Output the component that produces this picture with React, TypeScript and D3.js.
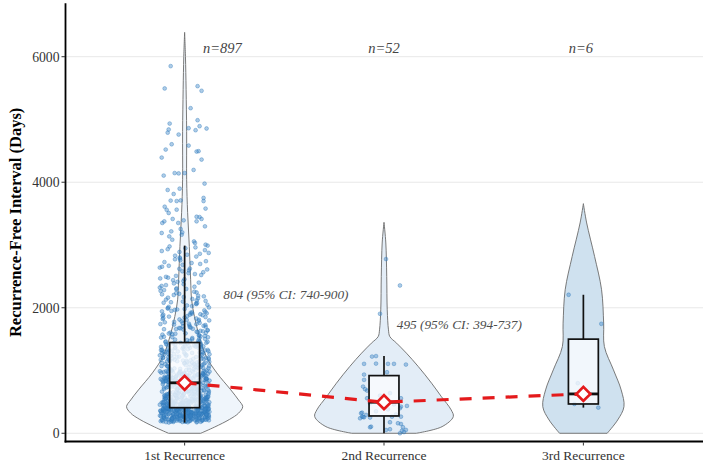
import * as d3 from 'd3';

const groups = ['1st Recurrence', '2nd Recurrence', '3rd Recurrence'];
const nLabels = ['n=897', 'n=52', 'n=6'];
const ciLabels = ['804 (95% CI: 740-900)', '495 (95% CI: 394-737)'];
const yTicks = [0, 2000, 4000, 6000];

// box summaries per group
const whiskerLow = [170, 0, 409];
const q1 = [408, 276, 467];
const medians = [804, 495, 627];
const q3 = [1446, 919, 1500];
const whiskerHigh = [2990, 1230, 2207];

// violin outlines: [days, relative density]
const violin1: [number, number][] = [
  [0, 0.23], [100, 0.43], [220, 0.64], [320, 0.77], [424, 0.83], [531, 0.77], [691, 0.66],
  [962, 0.46], [1222, 0.31], [1541, 0.21], [1860, 0.14], [2127, 0.1], [2446, 0.086],
  [2977, 0.067], [3515, 0.043], [4041, 0.029], [4810, 0.029], [5480, 0.021], [6000, 0.012], [6388, 0],
];
const violin2: [number, number][] = [
  [0, 0.46], [106, 0.83], [265, 0.99], [372, 0.96], [584, 0.82], [798, 0.68], [1063, 0.49],
  [1277, 0.32], [1436, 0.18], [1541, 0.083], [1648, 0.064], [1968, 0.046], [2499, 0.039],
  [3032, 0.026], [3361, 0],
];
const violin3: [number, number][] = [
  [0, 0.34], [212, 0.49], [424, 0.58], [691, 0.54], [1010, 0.43], [1382, 0.3], [1755, 0.29],
  [2287, 0.26], [2818, 0.16], [3351, 0.047], [3659, 0],
];

// 1st recurrence, bulk of the observations (days)
const firstDays = [
  172, 175, 176, 180, 181, 183, 186, 188, 190, 191, 193, 195, 198, 199, 200, 202, 204, 205, 207, 208,
  210, 210, 212, 214, 215, 217, 218, 220, 221, 223, 225, 226, 227, 229, 230, 231, 233, 235, 236, 238,
  239, 240, 242, 243, 245, 246, 247, 249, 250, 251, 252, 254, 255, 257, 258, 259, 260, 262, 263, 264,
  266, 267, 268, 270, 271, 272, 273, 275, 276, 277, 279, 280, 281, 282, 284, 285, 286, 288, 289, 290,
  291, 292, 294, 295, 296, 298, 299, 300, 300, 302, 303, 304, 305, 307, 308, 309, 310, 312, 313, 314,
  315, 317, 318, 319, 320, 321, 323, 324, 325, 326, 328, 329, 330, 331, 332, 334, 335, 336, 337, 339,
  340, 341, 342, 343, 345, 346, 347, 348, 350, 351, 352, 353, 354, 356, 357, 358, 359, 360, 362, 363,
  364, 365, 366, 368, 369, 370, 371, 372, 373, 375, 376, 377, 378, 379, 380, 382, 383, 384, 385, 386,
  387, 388, 390, 391, 392, 393, 394, 395, 396, 398, 399, 400, 401, 402, 403, 404, 405, 406, 407, 408,
  185, 196, 203, 219, 228, 237, 244, 253, 261, 269, 274, 283, 287, 297, 306, 311, 316, 322, 327, 333,
  338, 344, 349, 355, 361, 367, 374, 381, 389, 397, 178, 189, 209, 232, 248, 265, 278, 293, 301, 342,
  358, 371, 394, 402,
  410, 411, 413, 414, 415, 417, 418, 419, 421, 422, 423, 425, 426, 428, 429, 430, 432, 433, 434, 436,
  437, 439, 440, 441, 443, 444, 446, 447, 449, 450, 451, 453, 455, 456, 458, 459, 461, 462, 464, 465,
  467, 468, 470, 472, 473, 475, 476, 478, 479, 481, 483, 484, 486, 488, 489, 491, 492, 494, 496, 497,
  499, 501, 502, 504, 506, 508, 509, 511, 513, 515, 516, 518, 520, 522, 523, 525, 527, 529, 531, 532,
  534, 536, 538, 540, 542, 544, 545, 547, 549, 551, 553, 555, 557, 559, 561, 563, 565, 567, 569, 571,
  573, 575, 577, 579, 581, 583, 585, 587, 589, 592, 594, 596, 598, 600, 602, 605, 607, 609, 611, 614,
  616, 618, 620, 623, 625, 627, 630, 632, 634, 637, 639, 642, 644, 647, 649, 652, 654, 657, 659, 662,
  664, 667, 670, 672, 675, 678, 680, 683, 686, 688, 691, 694, 697, 700, 702, 705, 708, 711, 714, 717,
  720, 723, 726, 729, 732, 735, 738, 741, 744, 747, 751, 754, 757, 760, 764, 767, 770, 774, 777, 780,
  784, 787, 791, 794, 798, 801, 804, 412, 427, 438, 445, 452, 463, 471, 480, 487, 495, 503, 512, 521,
  530, 539, 548, 558, 568, 578, 588, 599, 610, 621, 633, 645, 658, 671, 685, 699, 713, 728, 743, 758,
  773, 789, 796, 802,
  805, 807, 808, 810, 812, 814, 816, 818, 819, 821, 823, 825, 827, 829, 830, 832, 834, 836, 838, 840,
  842, 843, 845, 847, 849, 851, 853, 855, 857, 858, 860, 862, 864, 866, 868, 870, 872, 874, 876, 878,
  880, 882, 884, 886, 888, 890, 892, 894, 896, 898, 900, 902, 904, 906, 908, 910, 912, 914, 916, 919,
  921, 923, 925, 927, 929, 932, 934, 936, 938, 941, 943, 945, 947, 950, 952, 954, 957, 959, 961, 964,
  966, 968, 971, 973, 976, 978, 980, 983, 985, 988, 990, 993, 995, 997, 999, 811, 851, 901, 949, 987,
  1002, 1005, 1009, 1012, 1016, 1019, 1023, 1026, 1030, 1033, 1037, 1040, 1044, 1047, 1051, 1054, 1058, 1061, 1065, 1068,
  1072, 1075, 1079, 1082, 1086, 1089, 1093, 1096, 1100, 1103, 1107, 1110, 1114, 1117, 1121, 1124, 1128, 1131, 1135, 1138,
  1142, 1145, 1149, 1152, 1156, 1159, 1163, 1166, 1170, 1173, 1177, 1180, 1184, 1187, 1191, 1194, 1198, 1201, 1205, 1208,
  1212, 1215, 1219, 1222, 1226, 1230, 1234, 1238, 1242, 1247,
  1252, 1255, 1259, 1263, 1266, 1270, 1274, 1277, 1281, 1285, 1288, 1292, 1296, 1299, 1303, 1307, 1310, 1314, 1318, 1321,
  1325, 1329, 1332, 1336, 1340, 1343, 1347, 1351, 1354, 1358, 1362, 1365, 1369, 1373, 1376, 1380, 1384, 1387, 1391, 1395,
  1398, 1402, 1406, 1409, 1413, 1417, 1420, 1424, 1428, 1431, 1435, 1439, 1442, 1446,
  1452, 1458, 1465, 1472, 1478, 1485, 1492, 1498, 1505, 1512, 1518, 1525, 1532, 1538, 1545, 1552, 1558, 1565, 1572, 1578,
  1585, 1592, 1598, 1605, 1612, 1618, 1625, 1632, 1638, 1645, 1652, 1658, 1665, 1672, 1678, 1685, 1692, 1698, 1705, 1712,
  1718, 1725, 1732, 1738, 1745,
  1753, 1760, 1768, 1775, 1783, 1791, 1798, 1806, 1813, 1821, 1829, 1836, 1844, 1851, 1859, 1867, 1874, 1882, 1889, 1897,
  1905, 1912, 1920, 1927, 1935, 1943, 1950, 1958, 1965, 1973, 1981, 1988, 1996,
  2005, 2015, 2026, 2036, 2047, 2057, 2067, 2078, 2088, 2099, 2109, 2119, 2130, 2140, 2151, 2161, 2171, 2182, 2192, 2203,
  2213, 2223, 2234, 2244,
  2256, 2269, 2282, 2295, 2309, 2322, 2335, 2348, 2361, 2375, 2388, 2401, 2414, 2427, 2440, 2454, 2467, 2480, 2493,
  2508, 2522, 2537, 2552, 2566, 2581, 2596, 2610, 2625, 2640, 2654, 2669, 2684, 2698, 2713, 2728, 2742, 2757, 2772, 2786,
  2801, 2816, 2830, 2845, 2860, 2874, 2889, 2904, 2918, 2933, 2948, 2962, 2977, 2990,
  1462, 1530, 1590, 1660, 1740, 1810, 1890, 2080, 2300, 2620,
];

// 1st recurrence, sparse upper observations: [days, jitter in category units]
const firstUpper: [number, number][] = [
  [5850, -0.07], [5531, 0.065], [5494, -0.1], [5457, 0.085], [5180, 0.03], [4988, 0.065], [4935, -0.075],
  [4893, 0.075], [4861, 0.02], [4856, 0.11], [4840, -0.08], [4829, 0.055], [4790, -0.085], [4760, -0.03],
  [4605, -0.065], [4584, 0.02], [4521, -0.095], [4495, 0.07], [4489, 0.06], [4393, -0.115], [4361, 0.085],
  [4196, 0.045], [4146, -0.05], [4141, -0.03], [4146, 0], [4106, -0.105], [3978, 0.1], [3898, -0.025],
  [3877, -0.085], [3813, -0.055], [3750, 0.095], [3710, -0.02], [3707, -0.07], [3700, -0.04], [3700, 0.095],
  [3610, -0.1], [3580, 0.105], [3563, -0.04], [3560, -0.09], [3510, -0.08], [3450, 0.06], [3445, 0.075],
  [3415, -0.06], [3415, 0.085], [3393, -0.005], [3377, -0.102], [3377, 0.06], [3351, -0.112], [3351, -0.032],
  [3297, 0.102], [3255, -0.02], [3217, -0.067], [3201, -0.012], [3191, -0.115], [3164, -0.015], [3137, -0.077],
  [3084, -0.062], [3057, 0.047], [3032, 0.052], [3005, 0.105],
];

const secondPoints: [number, number][] = [
  [2776, 0.01], [2355, 0.08], [1904, -0.02],
  [1222, -0.06], [1230, -0.04], [1106, -0.1], [1106, 0.02], [1106, 0.05], [1095, 0.11], [1110, -0.04],
  [973, 0.015], [935, -0.1],
  [851, -0.1], [744, -0.105], [702, -0.095], [680, -0.085], [640, 0.03], [600, -0.02], [558, -0.085],
  [558, 0.085], [520, 0.0], [495, -0.03], [478, -0.07], [460, 0.05], [436, 0.115], [425, 0.085], [399, 0.08],
  [380, 0.02], [350, -0.04],
  [329, -0.11], [319, -0.115], [292, -0.09], [265, -0.11], [260, -0.105], [255, -0.1], [250, -0.07],
  [239, -0.12], [265, 0.04], [265, 0.085],
  [176, 0.03], [160, 0.07], [148, 0.085], [106, -0.065], [96, -0.07], [96, 0.095], [64, 0.03], [53, 0.01],
  [53, 0.11], [40, 0.09], [20, 0.1], [0, 0.08], [300, 0.06],
];

const thirdPoints: [number, number][] = [
  [2207, -0.074], [1744, 0.09], [798, -0.028], [627, 0.01], [467, -0.045], [409, 0.075],
];

const violinFills = ['#eff5fb', '#e3edf7', '#cfe1ef'];
const serif = '"Liberation Serif", "Times New Roman", serif';

// spread for the dense cloud (stable per index)
const spread = (i: number) => {
  const s = Math.sin(i * 12.9898 + 78.233) * 43758.5453;
  return s - Math.floor(s) - 0.5;
};

export default function App() {
  const W = 709, H = 463;
  const x = d3.scalePoint<string>().domain(groups).range([65, 703]).padding(0.6);
  const step = x.step();
  const y = d3.scaleLinear().domain([-131, 6851]).range([441.5, 3.3]);
  const dens = d3.scaleLinear().domain([0, 1]).range([0, 0.351 * step]);
  const cx = (i: number) => x(groups[i]) as number;

  const violins = [violin1, violin2, violin3].map((prof, i) =>
    d3.area<[number, number]>()
      .y(d => y(d[0]))
      .x0(d => cx(i) - dens(d[1]))
      .x1(d => cx(i) + dens(d[1]))
      .curve(d3.curveCatmullRom)(prof) as string
  );

  const pts: { px: number; py: number }[] = [];
  firstDays.forEach((v, i) => pts.push({ px: cx(0) + spread(i) * 0.25 * step, py: y(v) }));
  firstUpper.forEach(([v, j]) => pts.push({ px: cx(0) + j * step, py: y(v) }));
  secondPoints.forEach(([v, j]) => pts.push({ px: cx(1) + j * step, py: y(v) }));
  thirdPoints.forEach(([v, j]) => pts.push({ px: cx(2) + j * step, py: y(v) }));

  const boxHalf = 0.075 * step;
  const trend = d3.line<number>().x((_, i) => cx(i)).y(d => y(d))(medians) as string;
  const diamond = d3.symbol(d3.symbolSquare, 98)() as string;

  const ciPos = [[0.194, 2140], [0.064, 1654]];
  const nShift = [0.189, 0, -0.013];

  return (
    <svg width={W} height={H} style={{ position: 'absolute', left: 0, top: 0 }} fontFamily={serif}>
      <rect width={W} height={H} fill="#fff" />
      {yTicks.map(t => (
        <line key={t} x1={65} x2={703} y1={y(t)} y2={y(t)} stroke="#e8e8e8" strokeWidth={1} />
      ))}
      {violins.map((d, i) => (
        <path key={i} d={d} fill={violinFills[i]} stroke="#6b6b6b" strokeWidth={0.9} />
      ))}
      {pts.map((p, i) => (
        <circle key={i} cx={p.px} cy={p.py} r={1.9} fill="#3d86c6" fillOpacity={0.42}
          stroke="#2e78bb" strokeOpacity={0.55} strokeWidth={0.7} />
      ))}
      {groups.map((g, i) => (
        <g key={g} stroke="#111">
          <line x1={cx(i)} x2={cx(i)} y1={y(whiskerHigh[i])} y2={y(q3[i])} strokeWidth={1.7} />
          <line x1={cx(i)} x2={cx(i)} y1={y(q1[i])} y2={y(whiskerLow[i])} strokeWidth={1.7} />
          <rect x={cx(i) - boxHalf} width={boxHalf * 2} y={y(q3[i])} height={y(q1[i]) - y(q3[i])}
            fill="#fbfdff" fillOpacity={0.78} strokeWidth={1.7} />
          <line x1={cx(i) - boxHalf} x2={cx(i) + boxHalf} y1={y(medians[i])} y2={y(medians[i])} strokeWidth={2.8} />
        </g>
      ))}
      <path d={trend} fill="none" stroke="#e41a1c" strokeWidth={3.2} strokeDasharray="12,11" />
      {medians.map((m, i) => (
        <path key={i} d={diamond} transform={`translate(${cx(i)},${y(m)}) rotate(45)`}
          fill="#fff" stroke="#e41a1c" strokeWidth={2.6} />
      ))}
      {nLabels.map((t, i) => (
        <text key={t} x={cx(i) + nShift[i] * step} y={y(6065)} textAnchor="middle"
          fontStyle="italic" fontSize={14.5} fill="#444">{t}</text>
      ))}
      {ciLabels.map((t, i) => (
        <text key={t} x={cx(i) + ciPos[i][0] * step} y={y(ciPos[i][1])}
          fontStyle="italic" fontSize={13.3} fill="#4d4d4d">{t}</text>
      ))}
      {/* axes */}
      <line x1={65.5} x2={65.5} y1={3.3} y2={442.4} stroke="#000" strokeWidth={1.8} />
      <line x1={64.6} x2={703} y1={441.5} y2={441.5} stroke="#000" strokeWidth={1.8} />
      {yTicks.map(t => (
        <g key={t}>
          <line x1={61.5} x2={65} y1={y(t)} y2={y(t)} stroke="#333" strokeWidth={1} />
          <text x={59.5} y={y(t)} dy="0.35em" textAnchor="end" fontSize={13.7} fill="#333">{t}</text>
        </g>
      ))}
      {groups.map((g, i) => (
        <g key={g}>
          <line x1={cx(i)} x2={cx(i)} y1={442.4} y2={445.5} stroke="#333" strokeWidth={1} />
          <text x={cx(i)} y={459.5} textAnchor="middle" fontSize={13.5} fill="#333">{g}</text>
        </g>
      ))}
      <text transform={`translate(15.5,${(3.3 + 441.5) / 2}) rotate(-90)`} textAnchor="middle"
        dy="0.35em" fontWeight="bold" fontSize={16.5} fill="#000">Recurrence-Free Interval (Days)</text>
    </svg>
  );
}
